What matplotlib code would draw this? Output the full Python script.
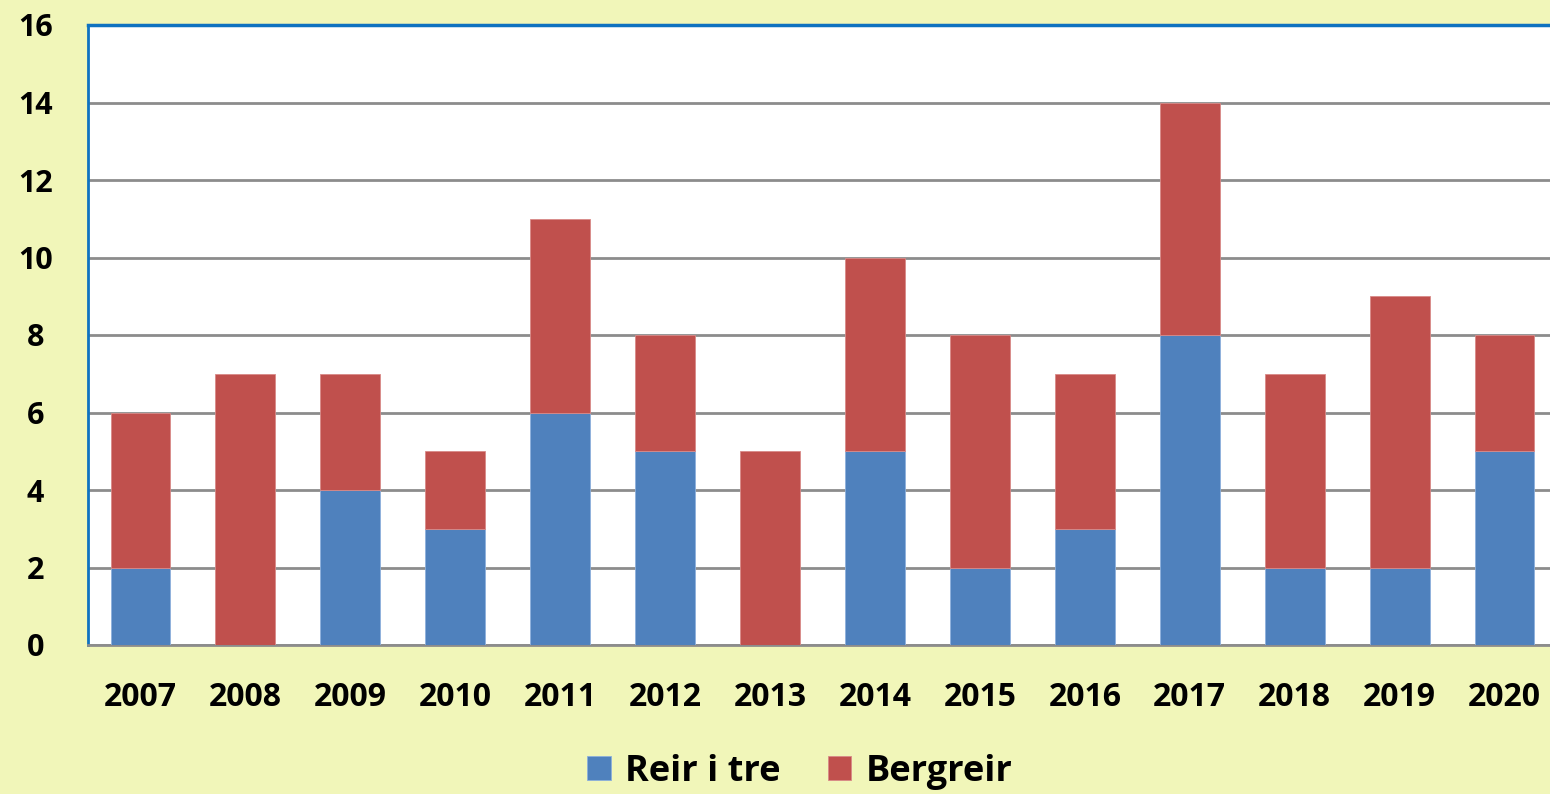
import matplotlib
matplotlib.use("Agg")
import matplotlib.pyplot as plt
import numpy as np

years = ["2007", "2008", "2009", "2010", "2011", "2012", "2013",
         "2014", "2015", "2016", "2017", "2018", "2019", "2020"]
reir_i_tre = [2, 0, 4, 3, 6, 5, 0, 5, 2, 3, 8, 2, 2, 5]
bergreir = [4, 7, 3, 2, 5, 3, 5, 5, 6, 4, 6, 5, 7, 3]
yticks = [0, 2, 4, 6, 8, 10, 12, 14, 16]

plt.rcParams['font.family'] = ['Open Sans', 'DejaVu Sans']

bg = "#F1F6B9"
blue = "#4F81BD"
red = "#C0504D"

fig = plt.figure(figsize=(15.5, 7.94), dpi=100, facecolor=bg)
ax = fig.add_axes([88/1550, 1 - 645/794, 1469/1550, 620/794])
ax.set_facecolor("white")

x = np.arange(len(years))
w = 0.57
ax.bar(x, reir_i_tre, w, color=blue, label="Reir i tre", zorder=3,
       edgecolor="#8DB0DC", linewidth=0.6)
ax.bar(x, bergreir, w, bottom=reir_i_tre, color=red, label="Bergreir", zorder=3,
       edgecolor="#D98A88", linewidth=0.6)

ax.set_xlim(-0.5, len(years) - 0.5)
ax.set_ylim(0, 16)
ax.set_yticks(yticks)
ax.set_yticklabels([str(v) for v in yticks])
ax.set_xticks(x)
ax.set_xticklabels(years)
ax.yaxis.grid(True, color="#8C8C8C", linewidth=2, zorder=0)
ax.set_axisbelow(True)

for lbl in ax.get_xticklabels():
    lbl.set_fontweight("bold")
    lbl.set_fontsize(23)
for lbl in ax.get_yticklabels():
    lbl.set_fontweight("bold")
    lbl.set_fontsize(22)
    lbl.set_horizontalalignment("center")
ax.tick_params(axis="both", length=0)
ax.tick_params(axis="y", pad=38)
ax.tick_params(axis="x", pad=26)

ax.spines["left"].set_color("#0F72C0")
ax.spines["left"].set_linewidth(2)
ax.spines["top"].set_color("#0F72C0")
ax.spines["top"].set_linewidth(2.5)
ax.spines["bottom"].set_color("#8C8C8C")
ax.spines["bottom"].set_linewidth(2)
ax.spines["right"].set_visible(False)

leg = fig.legend(loc="center", bbox_to_anchor=(800/1550, 1 - 772/794), ncol=2,
                 frameon=False, prop={"weight": "bold", "size": 26},
                 handlelength=0.65, handleheight=0.65, handletextpad=0.4,
                 columnspacing=1.3)

fig.savefig("out.png", dpi=100, facecolor=bg)
